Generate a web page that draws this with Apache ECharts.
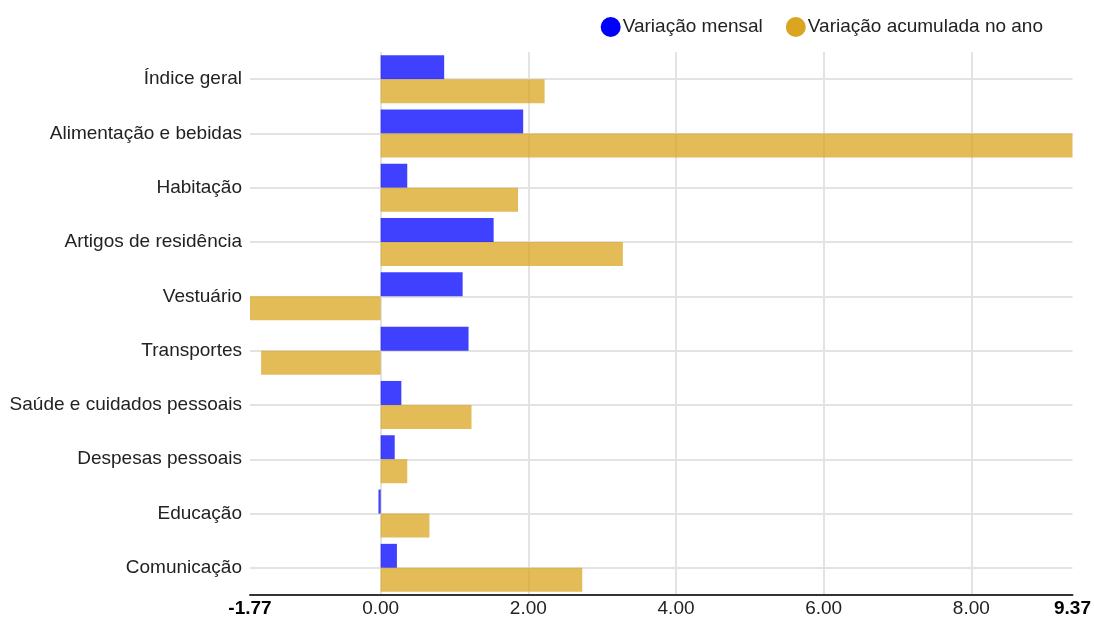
<!DOCTYPE html>
<html>
<head>
<meta charset="utf-8">
<script src="https://cdn.jsdelivr.net/npm/echarts@6/dist/echarts.min.js"></script>
<style>
  html, body { margin: 0; padding: 0; background: #fff; }
  #chart { width: 1094px; height: 618px; }
</style>
</head>
<body>
<div id="chart"></div>
<script>
var categories = ['Índice geral', 'Alimentação e bebidas', 'Habitação', 'Artigos de residência',
  'Vestuário', 'Transportes', 'Saúde e cuidados pessoais', 'Despesas pessoais', 'Educação', 'Comunicação'];
var mensal = [0.86, 1.93, 0.36, 1.53, 1.11, 1.19, 0.28, 0.19, -0.03, 0.22];
var acumulada = [2.22, 9.37, 1.86, 3.28, -1.77, -1.62, 1.23, 0.36, 0.66, 2.73];
var xMin = -1.77, xMax = 9.37;
var xTicks = [0, 2, 4, 6, 8];
var xLabels = [-1.77, 0, 2, 4, 6, 8, 9.37];

var chart = echarts.init(document.getElementById('chart'));
var option = {
  animation: false,
  textStyle: { fontFamily: 'Liberation Sans, Arial, sans-serif' },
  legend: {
    top: 12,
    right: 46,
    icon: 'circle',
    itemWidth: 20,
    itemHeight: 20,
    itemGap: 23,
    textStyle: { fontSize: 19, color: '#222', padding: [0, 0, 0, -3] },
    data: [
      { name: 'Variação mensal', itemStyle: { color: '#0000ff', opacity: 1 } },
      { name: 'Variação acumulada no ano', itemStyle: { color: '#daa520', opacity: 1 } }
    ]
  },
  grid: { left: 250, right: 19, top: 52, bottom: 20, containLabel: false },
  xAxis: {
    type: 'value',
    min: xMin,
    max: xMax,
    axisLine: { show: true, onZero: false, lineStyle: { color: '#333', width: 2 } },
    axisTick: { show: false, customValues: xTicks },
    axisLabel: {
      customValues: xLabels,
      fontSize: 19,
      color: '#222',
      margin: 4,
      formatter: function (v) {
        var s = v.toFixed(2);
        if (v === xMin || v === xMax) return '{b|' + s + '}';
        return s;
      },
      rich: { b: { fontSize: 19, fontWeight: 'bold', color: '#000' } }
    },
    splitLine: { show: true, lineStyle: { color: '#e3e3e3', width: 2 } }
  },
  yAxis: {
    type: 'category',
    inverse: true,
    data: categories,
    axisLine: { show: false },
    axisTick: { show: false },
    axisLabel: { fontSize: 19, color: '#222', margin: 8 },
    splitLine: { show: true, alignWithLabel: true, lineStyle: { color: '#e3e3e3', width: 2 } }
  },
  series: [
    {
      name: 'Variação mensal',
      type: 'bar',
      data: mensal,
      barWidth: 24,
      barGap: '0%',
      itemStyle: { color: '#0000ff', opacity: 0.75 }
    },
    {
      name: 'Variação acumulada no ano',
      type: 'bar',
      data: acumulada,
      barWidth: 24,
      itemStyle: { color: '#daa520', opacity: 0.75 }
    }
  ]
};
chart.setOption(option);
</script>
</body>
</html>
